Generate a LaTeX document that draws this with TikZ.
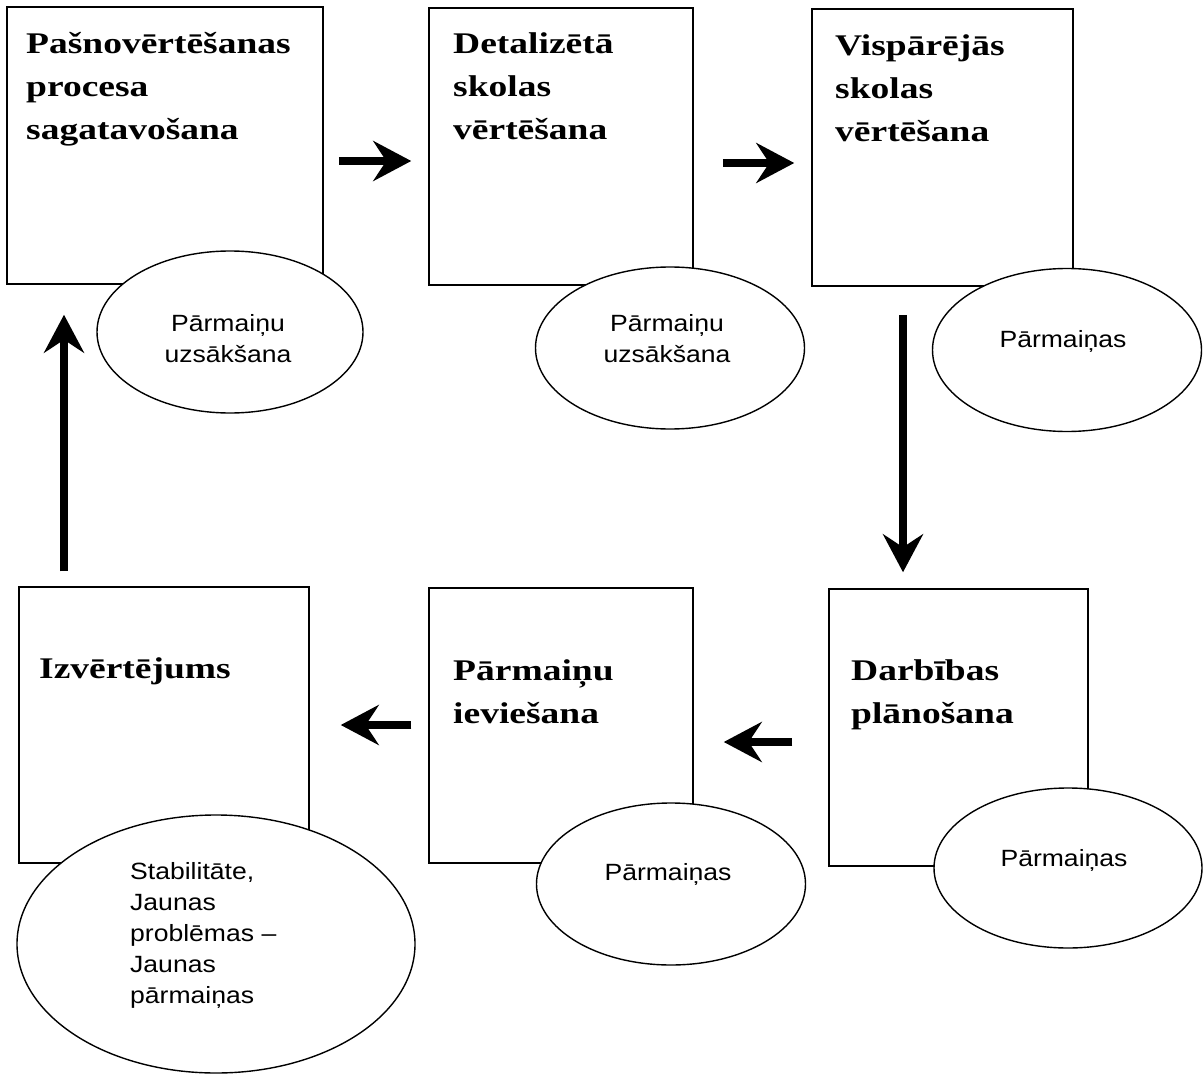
\documentclass[tikz,border=0pt]{standalone}
\usepackage{fontspec}
\setmainfont{Liberation Serif}
\newfontfamily\titlefont{Liberation Serif}[FakeStretch=1.25]
\newfontfamily\ovalfont{Liberation Sans}[FakeStretch=1.13]
\usetikzlibrary{shapes.geometric,arrows.meta}
\tikzset{
  stagebox/.style={draw, line width=1.5pt, rectangle, inner sep=0pt},
  stagetext/.style={anchor=base west, inner sep=0pt, align=left,
    font=\titlefont\bfseries\fontsize{30}{43}\selectfont},
  oval/.style={draw, line width=1.4pt, ellipse, fill=white, inner sep=0pt},
  ovaltext/.style={anchor=base, inner sep=0pt, align=center,
    font=\ovalfont\fontsize{23.5}{31}\selectfont},
  ovaltextleft/.style={ovaltext, anchor=base west, align=left},
  bigarrow/.style={line width=7.5pt, -{Stealth[length=38pt,width=40pt,inset=13pt]}}
}
\begin{document}
\begin{tikzpicture}[x=1pt,y=-1pt]
\useasboundingbox[fill=white] (0,0) rectangle (1204,1075);
% boxes
\node[stagebox, minimum width=316pt, minimum height=277pt] (b1) at (165,145.5) {};
\node[stagebox, minimum width=264pt, minimum height=277pt] (b2) at (561,146.5) {};
\node[stagebox, minimum width=261pt, minimum height=277pt] (b3) at (942.5,147.5) {};
\node[stagebox, minimum width=290pt, minimum height=276pt] (b4) at (164,725) {};
\node[stagebox, minimum width=264pt, minimum height=275pt] (b5) at (561,725.5) {};
\node[stagebox, minimum width=259pt, minimum height=277pt] (b6) at (958.5,727.5) {};
% ovals
\node[oval, minimum width=266pt, minimum height=162pt] (e1) at (230,332) {};
\node[oval, minimum width=269pt, minimum height=162pt] (e2) at (670,348) {};
\node[oval, minimum width=269pt, minimum height=163pt] (e3) at (1067,350) {};
\node[oval, minimum width=398pt, minimum height=258pt] (e4) at (216,944) {};
\node[oval, minimum width=269pt, minimum height=162pt] (e5) at (671,884) {};
\node[oval, minimum width=268pt, minimum height=160pt] (e6) at (1068,868) {};
% box texts (anchor = baseline of last line)
\node[stagetext] (t1) at (26,140) {Pašnovērtēšanas\\procesa\\sagatavošana};
\node[stagetext] (t2) at (453,140) {Detalizētā\\skolas\\vērtēšana};
\node[stagetext] (t3) at (835,142) {Vispārējās\\skolas\\vērtēšana};
\node[stagetext] (t4) at (39,678) {Izvērtējums};
\node[stagetext] (t5) at (453,723) {Pārmaiņu\\ieviešana};
\node[stagetext] (t6) at (851,723) {Darbības\\plānošana};
% oval texts (anchor = baseline of last line)
\node[ovaltext] (e1t) at (228,362) {Pārmaiņu\\uzsākšana};
\node[ovaltext] (e2t) at (667,362) {Pārmaiņu\\uzsākšana};
\node[ovaltext] (e3t) at (1063,347) {Pārmaiņas};
\node[ovaltextleft] (e4t) at (130,1003) {Stabilitāte,\\Jaunas\\problēmas –\\Jaunas\\pārmaiņas};
\node[ovaltext] (e5t) at (668,880) {Pārmaiņas};
\node[ovaltext] (e6t) at (1064,866) {Pārmaiņas};
% arrows
\draw[bigarrow, shorten <=15pt, shorten >=17pt] (b1.east |- 0,161) -- (b2.west |- 0,161);
\draw[bigarrow, shorten <=29pt, shorten >=17pt] (b2.east |- 0,163) -- (b3.west |- 0,163);
\draw[bigarrow, shorten <=28pt, shorten >=16pt] (b3.south -| 903,0) -- (b6.north -| 903,0);
\draw[bigarrow, shorten <=36pt, shorten >=30pt] (b6.west |- 0,742) -- (b5.east |- 0,742);
\draw[bigarrow, shorten <=17pt, shorten >=31pt] (b5.west |- 0,725) -- (b4.east |- 0,725);
\draw[bigarrow, shorten <=15pt, shorten >=30pt] (b4.north -| 64,0) -- (b1.south -| 64,0);
\end{tikzpicture}
\end{document}
